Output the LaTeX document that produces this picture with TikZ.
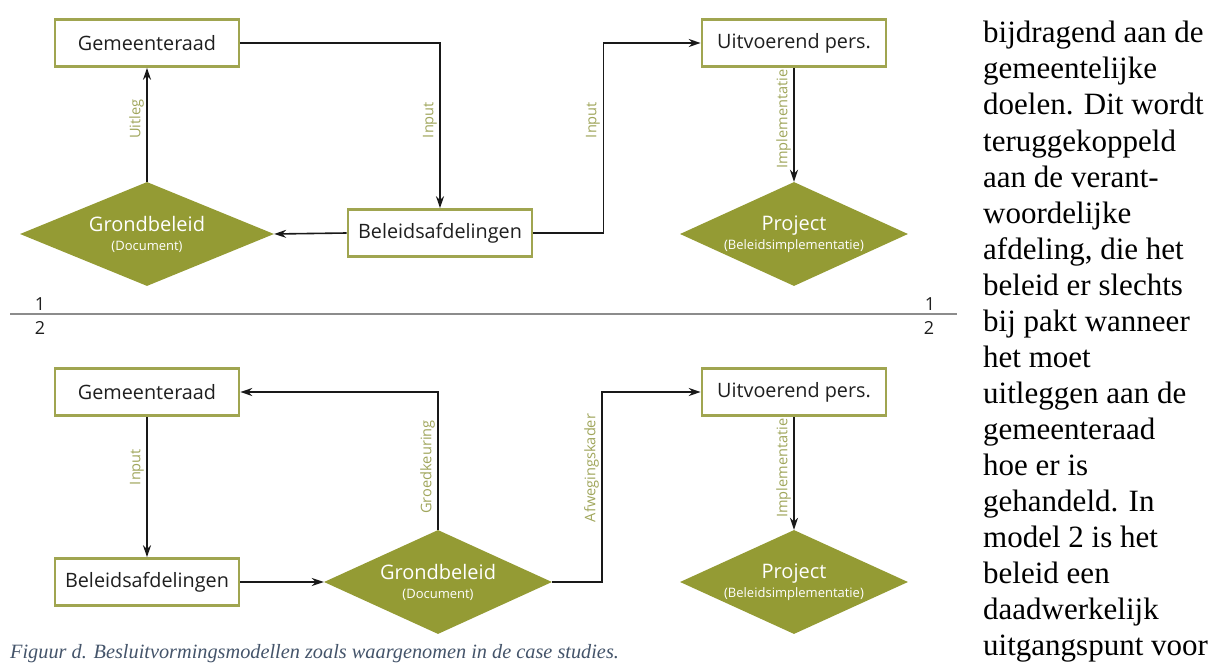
\documentclass[tikz,border=0pt]{standalone}
\usepackage{fontspec}
\setmainfont{Liberation Serif}
\newfontfamily\diagfont{Open Sans}
\usetikzlibrary{shapes.geometric,arrows.meta}
\definecolor{olivefill}{RGB}{148,155,52}
\definecolor{oliveline}{RGB}{160,165,80}
\definecolor{olivetext}{RGB}{160,166,92}
\definecolor{captionblue}{RGB}{68,84,106}
\definecolor{rulegrey}{RGB}{140,140,140}
\newcommand{\subsize}{\fontsize{13}{15}\selectfont}
\begin{document}
\begin{tikzpicture}[x=1pt,y=-1pt,
  box/.style={draw=oliveline, line width=2.6pt, fill=white,
    minimum width=184pt, minimum height=47pt, inner sep=0pt,
    font=\diagfont\fontsize{19.8}{23}\selectfont, text=black!88},
  dia/.style={diamond, fill=olivefill, inner sep=0pt, aspect=2.2,
    minimum width=228pt, minimum height=104pt, align=center, text=white,
    font=\diagfont\fontsize{20}{22}\selectfont},
  arr/.style={line width=1.6pt, draw=black!90, -{Stealth[length=12pt,width=8pt]}},
  lbl/.style={rotate=90, anchor=south, inner sep=3pt, text=olivetext,
    font=\diagfont\fontsize{14.6}{16}\selectfont},
  num/.style={font=\diagfont\fontsize{18}{20}\selectfont, inner sep=0pt, text=black!88},
  bodytext/.style={font=\fontsize{31}{36}\selectfont, inner sep=0pt, anchor=base west},
]
\useasboundingbox (0,0) rectangle (1220,666);

% ---------- model 1 ----------
\node[box] (g1) at (147,43) {Gemeenteraad};
\node[box] (b1) at (440,233) {Beleidsafdelingen};
\node[box] (u1) at (794,43) {Uitvoerend pers.};
\node[dia, minimum width=254pt, aspect=2.5] (d1) at (147,234)
  {Grondbeleid\\[-3pt]{\subsize (Document)}};
\node[dia] (p1) at (794,234)
  {Project\\[-3pt]{\subsize (Beleidsimplementatie)}};

\draw[arr] (g1.east) -| (b1.north);
\draw[arr] (b1.east) -- ++(70,0) |- (u1.west);
\draw[arr] (b1.west) -- (d1.east);
\draw[arr] (d1.north) -- (g1.south);
\draw[arr] (u1.south) -- (p1.north);

\node[lbl] (l1a) at (147,119) {Uitleg};
\node[lbl] (l1b) at (440,120) {Input};
\node[lbl] (l1c) at (603,120) {Input};
\node[lbl] (l1d) at (794,119) {Implementatie};

% ---------- separator ----------
\coordinate (sepL) at (10,314);
\coordinate (sepR) at (957,314);
\draw[rulegrey, line width=1.2pt] (sepL) -- (sepR);
\node[num] (n1l) at (40,304) {1};
\node[num] (n2l) at (40,328) {2};
\node[num] (n1r) at (930,304) {1};
\node[num] (n2r) at (929,328) {2};

% ---------- model 2 ----------
\node[box] (g2) at (147,392) {Gemeenteraad};
\node[box] (b2) at (147,582) {Beleidsafdelingen};
\node[box] (u2) at (794,392) {Uitvoerend pers.};
\node[dia] (d2) at (438,582)
  {Grondbeleid\\[-3pt]{\subsize (Document)}};
\node[dia] (p2) at (794,582)
  {Project\\[-3pt]{\subsize (Beleidsimplementatie)}};

\draw[arr] (g2.south) -- (b2.north);
\draw[arr] (b2.east) -- (d2.west);
\draw[arr] (d2.north) |- (g2.east);
\draw[arr] (d2.east) -- ++(50,0) |- (u2.west);
\draw[arr] (u2.south) -- (p2.north);

\node[lbl] (l2a) at (147,467) {Input};
\node[lbl] (l2b) at (438,467) {Groedkeuring};
\node[lbl] (l2c) at (602,468) {Afwegingskader};
\node[lbl] (l2d) at (794,468) {Implementatie};

% ---------- running text column ----------
\foreach \t [count=\i from 0] in {bijdragend aan de, gemeentelijke,
  doelen. Dit wordt, teruggekoppeld, aan de verant-, woordelijke,
  {afdeling, die het}, beleid er slechts, bij pakt wanneer, het moet,
  uitleggen aan de, gemeenteraad, hoe er is, gehandeld. In,
  model 2 is het, beleid een, daadwerkelijk, uitgangspunt voor}
  \node[bodytext] (line\i) at (983,43+36*\i) {\t};

% ---------- caption ----------
\node[anchor=base west, inner sep=0pt, text=captionblue,
  font=\itshape\fontsize{20.3}{24}\selectfont] (cap) at (10,658)
  {Figuur d. Besluitvormingsmodellen zoals waargenomen in de case studies.};
\end{tikzpicture}
\end{document}
